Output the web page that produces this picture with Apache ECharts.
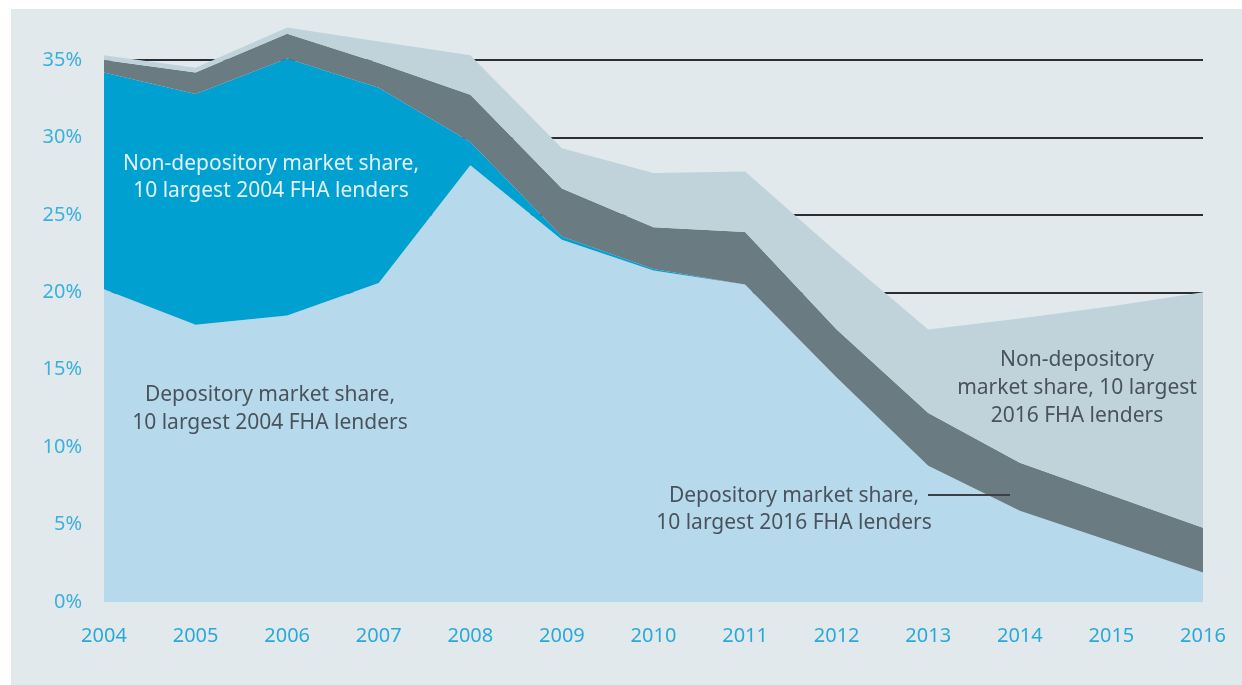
<!DOCTYPE html>
<html>
<head>
<meta charset="utf-8">
<script src="https://cdn.jsdelivr.net/npm/echarts@6/dist/echarts.min.js"></script>
<style>
  html, body { margin: 0; padding: 0; background: #ffffff; }
  #panel { position: absolute; left: 11px; top: 9px; width: 1231px; height: 676px; background: #e2e9ed; }
  #chart { position: absolute; left: 0; top: 0; width: 1242px; height: 685px; }
</style>
</head>
<body>
<div id="panel"></div>
<div id="chart"></div>
<script>
// 年份
var years = ['2004', '2005', '2006', '2007', '2008', '2009', '2010', '2011', '2012', '2013', '2014', '2015', '2016'];
// 各部分市场份额 (%)，按堆叠顺序
var depository2004 = [20.2, 17.9, 18.5, 20.6, 28.2, 23.4, 21.4, 20.5, 14.5, 8.8, 5.9, 3.9, 1.9];
var nonDepository2004 = [14.0, 14.9, 16.6, 12.6, 1.5, 0.2, 0.1, 0, 0, 0, 0, 0, 0];
var depository2016 = [0.8, 1.4, 1.6, 1.6, 3.05, 3.1, 2.7, 3.4, 3.1, 3.4, 3.1, 3.0, 2.9];
var nonDepository2016 = [0.3, 0.3, 0.4, 1.4, 2.55, 2.6, 3.5, 3.9, 5.0, 5.4, 9.3, 12.2, 15.2];
// Y 轴刻度
var yMin = 0, yMax = 35, yStep = 5;

var chartDom = document.getElementById('chart');
var myChart = echarts.init(chartDom);

var font = 'Noto Sans';

function areaSeries(name, data, color) {
  return {
    name: name,
    type: 'line',
    stack: 'total',
    data: data,
    symbol: 'none',
    clip: false,
    lineStyle: { width: 0 },
    areaStyle: { color: color, opacity: 1 },
    color: color,
    silent: true
  };
}

var option = {
  animation: false,
  grid: {
    left: 104,
    right: 39,
    top: 60,
    bottom: 83
  },
  xAxis: {
    type: 'category',
    boundaryGap: false,
    data: years,
    axisLine: { show: false },
    axisTick: { show: false },
    axisLabel: {
      color: '#2aa9d9',
      fontSize: 20,
      fontFamily: font,
      margin: 24,
      interval: 0
    },
    splitLine: { show: false }
  },
  yAxis: {
    type: 'value',
    min: yMin,
    max: yMax,
    interval: yStep,
    axisLine: { show: false },
    axisTick: { show: false },
    axisLabel: {
      formatter: '{value}%',
      color: '#3cb0dc',
      fontSize: 20,
      fontFamily: font,
      margin: 22
    },
    splitLine: {
      show: true,
      lineStyle: {
        // 只显示 20% 以上的网格线
        color: ['rgba(0,0,0,0)', 'rgba(0,0,0,0)', 'rgba(0,0,0,0)', 'rgba(0,0,0,0)', '#2b2f33', '#2b2f33', '#2b2f33', '#2b2f33'],
        width: 2
      }
    }
  },
  series: [
    areaSeries('Depository market share, 10 largest 2004 FHA lenders', depository2004, '#b7d9ec'),
    areaSeries('Non-depository market share, 10 largest 2004 FHA lenders', nonDepository2004, '#00a1d1'),
    areaSeries('Depository market share, 10 largest 2016 FHA lenders', depository2016, '#6a7b81'),
    areaSeries('Non-depository market share, 10 largest 2016 FHA lenders', nonDepository2016, '#c0d3db')
  ],
  graphic: {
    elements: [
      {
        type: 'text', x: 271, y: 178, z: 100,
        style: {
          text: 'Non-depository market share,\n10 largest 2004 FHA lenders',
          fill: '#e3f2f9', font: '21px "Noto Sans"', align: 'center', verticalAlign: 'middle', lineHeight: 27
        }
      },
      {
        type: 'text', x: 270, y: 409, z: 100,
        style: {
          text: 'Depository market share,\n10 largest 2004 FHA lenders',
          fill: '#4a535c', font: '21px "Noto Sans"', align: 'center', verticalAlign: 'middle', lineHeight: 28
        }
      },
      {
        type: 'text', x: 1077, y: 388, z: 100,
        style: {
          text: 'Non-depository\nmarket share, 10 largest\n2016 FHA lenders',
          fill: '#4a535c', font: '21px "Noto Sans"', align: 'center', verticalAlign: 'middle', lineHeight: 28
        }
      },
      {
        type: 'text', x: 794, y: 510, z: 100,
        style: {
          text: 'Depository market share,\n10 largest 2016 FHA lenders',
          fill: '#4a535c', font: '21px "Noto Sans"', align: 'center', verticalAlign: 'middle', lineHeight: 27
        }
      },
      {
        type: 'line', z: 100,
        shape: { x1: 928, y1: 495, x2: 1010, y2: 495 },
        style: { stroke: '#3a4046', lineWidth: 2 }
      }
    ]
  }
};

myChart.setOption(option);
window.addEventListener('resize', function () {
  myChart.resize();
});
</script>
</body>
</html>
